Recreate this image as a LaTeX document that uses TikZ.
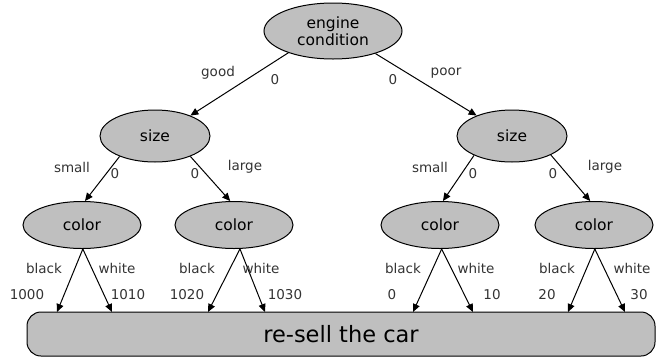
\documentclass[tikz,border=0pt]{standalone}
\usepackage{fontspec}
\setmainfont{DejaVu Sans}
\usetikzlibrary{shapes.geometric,arrows.meta}
\begin{document}
\begin{tikzpicture}[x=1pt,y=-1pt,
  dec/.style={ellipse,draw=black,line width=1pt,fill=black!25,inner sep=0pt,
    font=\fontsize{15.5}{17}\selectfont},
  sizenode/.style={dec,minimum width=110pt,minimum height=52pt},
  colnode/.style={dec,minimum width=118pt,minimum height=47pt},
  lab/.style={font=\fontsize{13.5}{16}\selectfont,text=black!80,inner sep=0pt},
  conn/.style={line width=1pt,-{Triangle[length=8pt,width=7pt]}},
]
\useasboundingbox (0,0) rectangle (659,357);

% nodes
\node[dec,minimum width=138pt,minimum height=56pt,align=center] (top) at (333,31) {engine\\condition};
\node[sizenode] (sL) at (155,136) {size};
\node[sizenode] (sR) at (512,136) {size};
\node[colnode] (c1) at (82,225) {color};
\node[colnode] (c2) at (234,225) {color};
\node[colnode] (c3) at (440,225) {color};
\node[colnode] (c4) at (594,225) {color};
\node[draw=black,line width=1pt,fill=black!25,rounded corners=14pt,
  minimum width=628pt,minimum height=44pt,inner sep=0pt,
  font=\fontsize{22.5}{26}\selectfont] (box) at (341,334) {re-sell the car};

% free ends on the box
\coordinate (e1) at (57,312);
\coordinate (e2) at (112,312);
\coordinate (e3) at (208,312);
\coordinate (e4) at (265,312);
\coordinate (e5) at (413,312);
\coordinate (e6) at (473,312);
\coordinate (e7) at (568,312);
\coordinate (e8) at (625,312);

% connectors
\draw[conn] (top.206) -- (sL.30);
\draw[conn] (top.332) -- (sR.150);
\draw[conn] (sL.210) -- (c1.83);
\draw[conn] (sL.330) -- (c2.99);
\draw[conn] (sR.207) -- (c3.83);
\draw[conn] (sR.334) -- (c4.99);
\draw[conn] (c1.272) -- (e1);
\draw[conn] (c1.272) -- (e2);
\draw[conn] (c2.284) -- (e3);
\draw[conn] (c2.284) -- (e4);
\draw[conn] (c3.274) -- (e5);
\draw[conn] (c3.274) -- (e6);
\draw[conn] (c4.272) -- (e7);
\draw[conn] (c4.272) -- (e8);

% labels
\node[lab] (lgood) at (218,73) {good};
\node[lab] (lg0) at (275,80) {0};
\node[lab] (lp0) at (393,80) {0};
\node[lab] (lpoor) at (446,73) {poor};

\node[lab] (l1) at (72,167) {small};
\node[lab] (l2) at (115,174) {0};
\node[lab] (l3) at (195,174) {0};
\node[lab] (l4) at (245,167) {large};
\node[lab] (l5) at (430,167) {small};
\node[lab] (l6) at (473,174) {0};
\node[lab] (l7) at (553,174) {0};
\node[lab] (l8) at (605,167) {large};

\node[lab] (b1) at (44,268) {black};
\node[lab] (w1) at (117,268) {white};
\node[lab] (b2) at (197,268) {black};
\node[lab] (w2) at (261,268) {white};
\node[lab] (b3) at (403,268) {black};
\node[lab] (w3) at (476,268) {white};
\node[lab] (b4) at (557,268) {black};
\node[lab] (w4) at (632,268) {white};

\node[lab] (n1) at (27,295) {1000};
\node[lab] (n2) at (128,295) {1010};
\node[lab] (n3) at (187,295) {1020};
\node[lab] (n4) at (285,295) {1030};
\node[lab] (n5) at (392,295) {0};
\node[lab] (n6) at (492,295) {10};
\node[lab] (n7) at (547,295) {20};
\node[lab] (n8) at (639,295) {30};
\end{tikzpicture}
\end{document}
